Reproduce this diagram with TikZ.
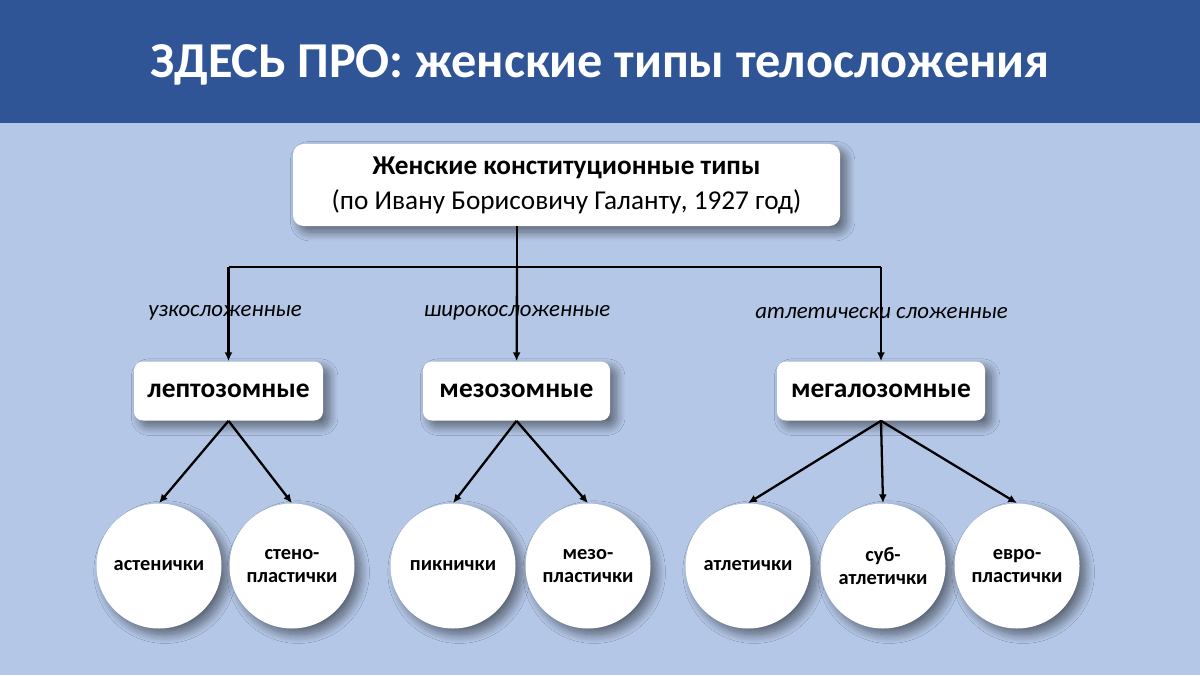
\documentclass[tikz,border=0pt]{standalone}
\usepackage{fontspec}
\setmainfont{Carlito}
\usepackage{xcolor}
\usepackage{tikz}
\usetikzlibrary{arrows.meta, positioning, calc, shadows.blur}
\definecolor{HeadBlue}{RGB}{47, 85, 151}
\definecolor{PaleBlue}{RGB}{180, 199, 231}
\definecolor{InkBlack}{RGB}{0, 0, 0}
\tikzset{
  soft/.style={blur shadow={shadow xshift=3.5pt, shadow yshift=-3.5pt,
      shadow blur radius=5pt, shadow blur steps=12, shadow opacity=50}},
  rootbox/.style={rectangle, rounded corners=6pt, minimum width=10.94cm,
    minimum height=1.64cm, align=center, fill=white,
    font=\fontsize{15.5}{20}\selectfont, text=InkBlack, soft},
  typebox/.style={rectangle, rounded corners=5pt, minimum height=1.18cm,
    align=center, fill=white, font=\fontsize{15.6}{18}\selectfont\bfseries,
    text=InkBlack, soft},
  subcirc/.style={circle, minimum size=2.5cm, inner sep=0pt, align=center,
    fill=white, font=\fontsize{11.6}{12.8}\selectfont\bfseries, text=InkBlack,
    soft},
  lbl/.style={font=\fontsize{13}{15}\selectfont\itshape, text=InkBlack},
  ln/.style={line width=1.3pt, color=InkBlack},
  arr/.style={-{Latex[length=5pt,width=4.5pt]}, line width=1.3pt, color=InkBlack},
}
\begin{document}
\begin{tikzpicture}
  \useasboundingbox (0,0) rectangle (24,13.5);
  \fill[PaleBlue] (0,0) rectangle (24,13.5);
  \fill[HeadBlue] (0,11.04) rectangle (24,13.5);
  \node[font=\fontsize{28.6}{32}\selectfont\bfseries, text=white] (title) at (12,12.2)
    {ЗДЕСЬ ПРО: женские типы телосложения};

  \node[rootbox] (root) at (11.33,9.8)
    {\textbf{Женские конституционные типы}\\(по Ивану Борисовичу Галанту, 1927 год)};

  % junction of the tree
  \coordinate (jl) at (4.57,8.16);
  \coordinate (jm) at (10.34,8.16);
  \coordinate (jr) at (17.62,8.16);

  \node[lbl] (lnar) at (4.5,7.24) {узкосложенные};
  \node[lbl] (lwid) at (10.34,7.24) {широкосложенные};
  \node[lbl] (lath) at (17.63,7.24) {атлетически сложенные};

  \node[typebox, minimum width=3.78cm] (lep) at (4.57,5.68) {лептозомные};
  \node[typebox, minimum width=3.74cm] (mez) at (10.33,5.68) {мезозомные};
  \node[typebox, minimum width=4.16cm] (meg) at (17.62,5.68) {мегалозомные};

  \node[subcirc] (ast) at (3.18,2.18) {астенички};
  \node[subcirc] (sten) at (5.84,2.18) {стено-\\пластички};
  \node[subcirc] (pik) at (9.06,2.18) {пикнички};
  \node[subcirc] (mzp) at (11.76,2.18) {мезо-\\пластички};
  \node[subcirc] (atl) at (14.96,2.18) {атлетички};
  \node[subcirc] (sub) at (17.66,2.18) {суб-\\атлетички};
  \node[subcirc] (evr) at (20.34,2.18) {евро-\\пластички};

  \draw[ln] (jm |- root.south) -- (jm);
  \draw[ln] (jl) -- (jr);
  \draw[arr] (jl) -- (lep); \draw[arr] (jm) -- (mez); \draw[arr] (jr) -- (meg);
  \draw[arr] (lep.south) -- (ast.north); \draw[arr] (lep.south) -- (sten.north);
  \draw[arr] (mez.south) -- (pik.north); \draw[arr] (mez.south) -- (mzp.north);
  \draw[arr] (meg.south) -- (atl.north); \draw[arr] (meg.south) -- (sub.north);
  \draw[arr] (meg.south) -- (evr.north);
\end{tikzpicture}
\end{document}
